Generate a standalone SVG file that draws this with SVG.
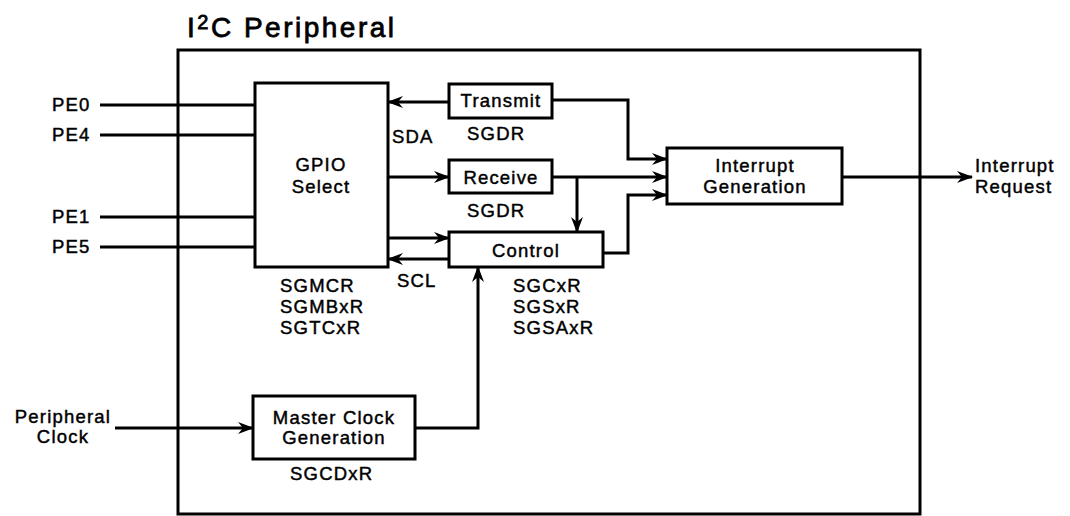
<svg xmlns="http://www.w3.org/2000/svg" width="1070" height="516" viewBox="0 0 1070 516">
<defs>
<marker id="ah" markerUnits="userSpaceOnUse" markerWidth="16" markerHeight="12" refX="15" refY="6" orient="auto">
<path d="M0,0 L16,6 L0,12 L5,6 z" fill="#000"/>
</marker>
<style>
.box{fill:#fff;stroke:#000;stroke-width:3}
.ln{fill:none;stroke:#000;stroke-width:3}
.t{font-family:"Liberation Sans",Arial,sans-serif;font-size:18.5px;letter-spacing:1.2px;fill:#000;stroke:#000;stroke-width:0.45px}
.c{text-anchor:middle}
.title{font-family:"Liberation Sans",Arial,sans-serif;font-size:28px;letter-spacing:2.5px;fill:#000;stroke:#000;stroke-width:0.8px}
</style>
</defs>
<rect width="1070" height="516" fill="#fff"/>
<text class="title" x="187" y="37">I<tspan font-size="20" dy="-8">2</tspan><tspan dy="8">C Peripheral</tspan></text>
<g id="frame"><rect x="178" y="50" width="742" height="464" class="ln"/></g>
<g id="connectors">
<path class="ln" d="M100,105 H255 M100,135 H255 M100,217 H255 M100,247 H255"/>
<path class="ln" d="M449,102 H388" marker-end="url(#ah)"/>
<path class="ln" d="M388,177 H449" marker-end="url(#ah)"/>
<path class="ln" d="M388,238 H449" marker-end="url(#ah)"/>
<path class="ln" d="M449,259 H388" marker-end="url(#ah)"/>
<path class="ln" d="M577,177 V232" marker-end="url(#ah)"/>
<path class="ln" d="M552,100 H628 V159 H667" marker-end="url(#ah)"/>
<path class="ln" d="M552,177 H667" marker-end="url(#ah)"/>
<path class="ln" d="M603,253 H628 V195 H667" marker-end="url(#ah)"/>
<path class="ln" d="M842,177 H972" marker-end="url(#ah)"/>
<path class="ln" d="M115,428 H253" marker-end="url(#ah)"/>
<path class="ln" d="M415,428 H478 V267" marker-end="url(#ah)"/>
</g>
<g id="gpio">
<rect class="box" x="255" y="83" width="133" height="184"/>
<text class="t c" x="321" y="171">GPIO</text>
<text class="t c" x="321" y="193">Select</text>
<text class="t" x="280" y="292">SGMCR</text>
<text class="t" x="280" y="313">SGMBxR</text>
<text class="t" x="280" y="334">SGTCxR</text>
</g>
<g id="transmit">
<rect class="box" x="449" y="84" width="103" height="34"/>
<text class="t c" x="501" y="107">Transmit</text>
<text class="t" x="467" y="140">SGDR</text>
</g>
<g id="receive">
<rect class="box" x="449" y="160" width="103" height="33"/>
<text class="t c" x="501" y="184">Receive</text>
<text class="t" x="467" y="217">SGDR</text>
</g>
<g id="control">
<rect class="box" x="449" y="232" width="154" height="35"/>
<text class="t c" x="526" y="257">Control</text>
<text class="t" x="513" y="292">SGCxR</text>
<text class="t" x="513" y="313">SGSxR</text>
<text class="t" x="513" y="334">SGSAxR</text>
</g>
<g id="intgen">
<rect class="box" x="667" y="148" width="175" height="56"/>
<text class="t c" x="755" y="172">Interrupt</text>
<text class="t c" x="755" y="193">Generation</text>
</g>
<g id="mclk">
<rect class="box" x="253" y="396" width="162" height="63"/>
<text class="t c" x="334" y="424">Master Clock</text>
<text class="t c" x="334" y="444">Generation</text>
<text class="t" x="290" y="480">SGCDxR</text>
</g>
<g id="labels">
<text class="t" x="52" y="111">PE0</text>
<text class="t" x="52" y="141">PE4</text>
<text class="t" x="52" y="223">PE1</text>
<text class="t" x="52" y="253">PE5</text>
<text class="t" x="392" y="143">SDA</text>
<text class="t" x="397" y="287">SCL</text>
<text class="t c" x="63" y="423">Peripheral</text>
<text class="t c" x="63" y="443">Clock</text>
<text class="t" x="975" y="172">Interrupt</text>
<text class="t" x="975" y="193">Request</text>
</g>
</svg>
